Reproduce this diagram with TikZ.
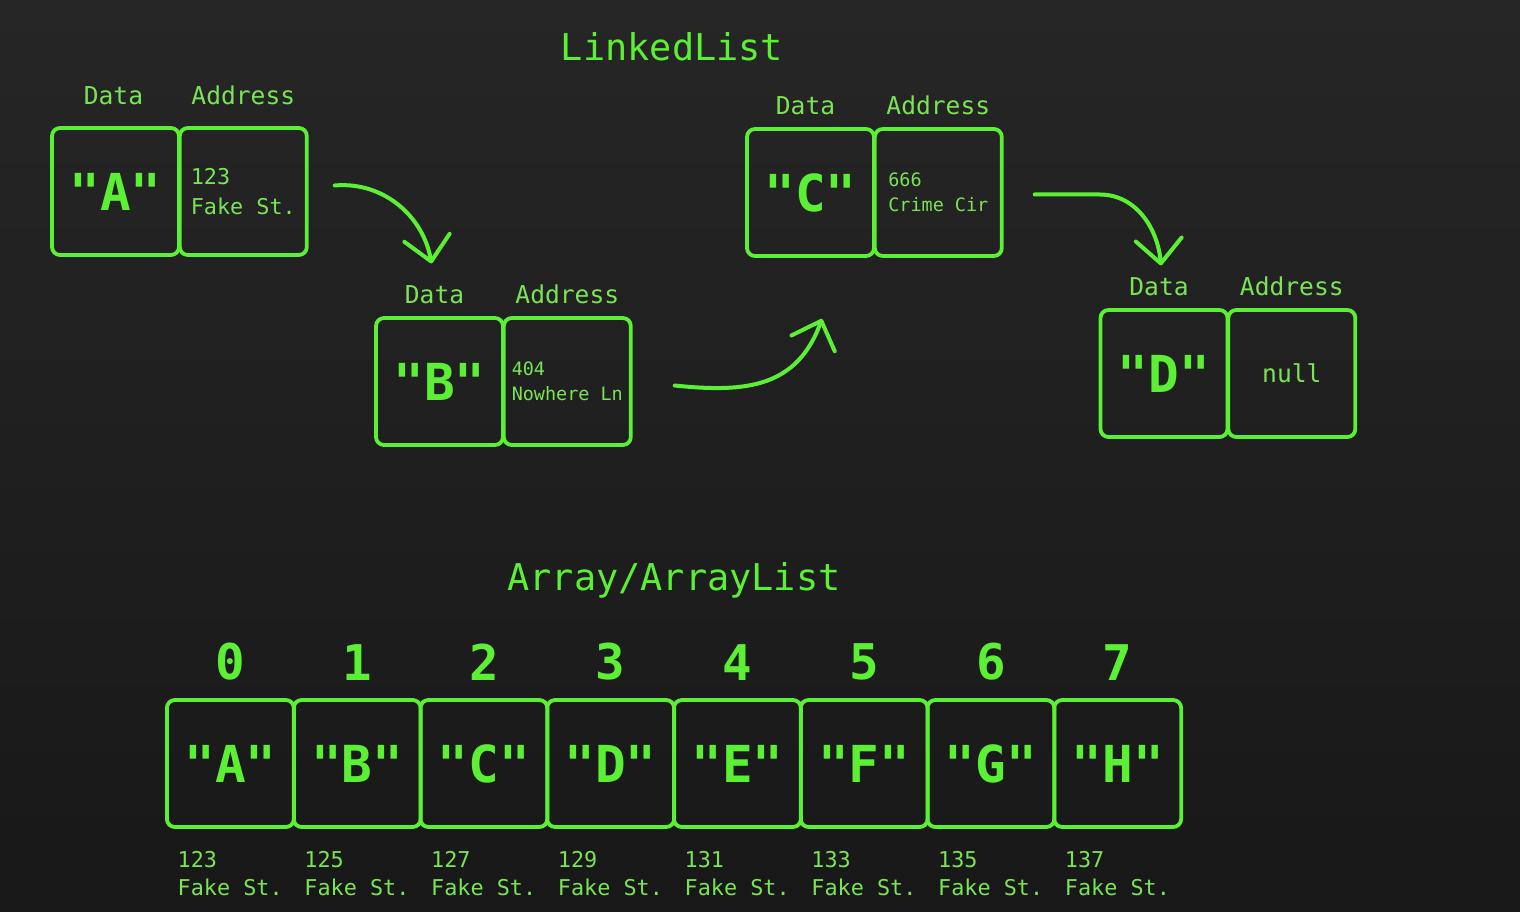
\documentclass[tikz,border=0pt]{standalone}
\usepackage{fontspec}
\newfontfamily\mono{DejaVu Sans Mono}
\usetikzlibrary{positioning,arrows.meta}

\definecolor{bgtop}{RGB}{38,38,38}
\definecolor{bgbot}{RGB}{24,24,24}
\definecolor{grn}{RGB}{92,240,52}
\definecolor{lgrn}{RGB}{122,228,84}

\tikzset{
	cell/.style={draw=grn, line width=0.38mm, rounded corners=0.8mm, minimum width=12.7mm, minimum height=12.7mm, inner sep=0pt, text=grn, font=\mono\bfseries\fontsize{14.5}{16}\selectfont},
	addrcell/.style={cell, text=lgrn, align=left, font=\mono\fontsize{6.2}{8.6}\selectfont},
	smallcell/.style={cell, text=lgrn, align=left, font=\mono\fontsize{5.25}{7}\selectfont},
	lbl/.style={text=lgrn, inner sep=0pt, font=\mono\fontsize{7}{8}\selectfont},
	addr/.style={text=lgrn, inner sep=0pt, align=left, font=\mono\fontsize{6.2}{8}\selectfont},
	heading/.style={text=grn, inner sep=0pt, font=\mono\fontsize{10.5}{12}\selectfont},
	idx/.style={text=grn, inner sep=0pt, font=\mono\bfseries\fontsize{14}{16}\selectfont},
	arr/.style={draw=grn, line width=0.4mm, line cap=round, -{Straight Barb[length=2.4mm, width=4.6mm, round]}}
}

\begin{document}
\begin{tikzpicture}[x=0.1mm, y=-0.1mm]

	% background
	\shade[top color=bgtop, bottom color=bgbot] (0,0) rectangle (1520,912);
	\useasboundingbox (0,0) rectangle (1520,912);

	% titles
	\node[heading] (lltitle) at (672,47) {LinkedList};
	\node[heading] (artitle) at (674,580) {Array/ArrayList};

	% linked list nodes
	\node[cell] (a1) at (115.5,191.5) {"A"};
	\node[addrcell, right=-0.3mm of a1] (a2) {123\\Fake St.};

	\node[cell] (b1) at (439.5,381.5) {"B"};
	\node[smallcell, right=-0.3mm of b1] (b2) {404\\Nowhere Ln};

	\node[cell] (c1) at (810.5,192.5) {"C"};
	\node[smallcell, right=-0.3mm of c1] (c2) {666\\Crime Cir};

	\node[cell] (d1) at (1164,373.5) {"D"};
	\node[cell, right=-0.3mm of d1, lbl, draw=grn, inner sep=0pt] (d2) {null};

	% column labels
	\node[lbl, above=2.1mm of a1, xshift=-0.2mm] (la1) {Data};
	\node[lbl, above=2.1mm of a2] (la2) {Address};
	\foreach \n in {b,c,d} {
		\node[lbl, above=1.2mm of \n1, xshift=-0.5mm] (l\n1) {Data};
		\node[lbl, above=1.2mm of \n2] (l\n2) {Address};
	}

	% pointers
	\draw[arr] ([xshift=2.6mm, yshift=0.6mm]a2.east) to[out=5, in=100] ([xshift=-0.3mm, yshift=2.1mm]lb1.north);
	\draw[arr] ([xshift=4.2mm, yshift=-0.4mm]b2.east) to[out=-6, in=-110, looseness=1.15] ([xshift=1.15mm, yshift=-6.1mm]c1.south);
	\draw[arr] ([xshift=3.1mm, yshift=-0.2mm]c2.east) -- ++(6.5mm,0) to[out=0, in=95] ([xshift=0.2mm, yshift=1.1mm]ld1.north);

	% array cells
	\foreach \ch [count=\i from 0] in {A,B,C,D,E,F,G,H} {
		\pgfmathtruncatemacro\num{123+2*\i}
		\node[cell] (arr\i) at ({230.4+126.75*\i},763.5) {"\ch"};
		\node[idx, above=1.7mm of arr\i] (idx\i) {\i};
		\node[addr, anchor=north west] (ad\i) at ([xshift=1.2mm, yshift=-2.2mm]arr\i.south west) {\num\\Fake St.};
	}

\end{tikzpicture}
\end{document}
